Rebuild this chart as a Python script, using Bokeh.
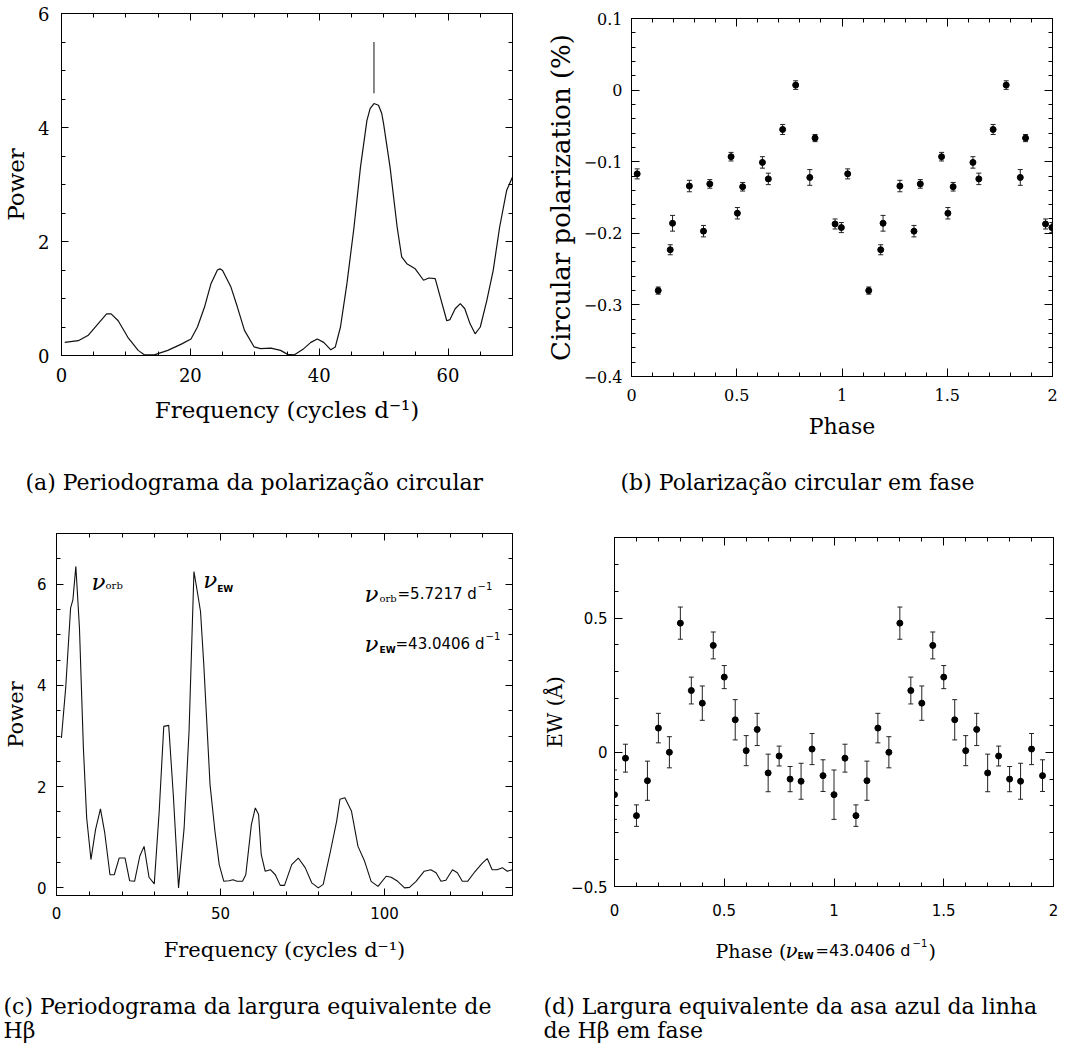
from bokeh.plotting import figure
from bokeh.layouts import row, column
from bokeh.models import (Range1d, LinearAxis, FixedTicker, CustomJSTickFormatter,
                          Label, Whisker, TeeHead, ColumnDataSource)
from bokeh.embed import file_html
from bokeh.resources import INLINE

# ---------------- data ----------------
# (a) periodogram of circular polarization
freq_a = [0.5, 2.6, 4.1, 5.7, 7.0, 7.7, 8.8, 10.3, 11.9, 12.9,
          14.4, 16.5, 18.6, 20.1, 21.1, 22.2, 23.2, 24.2, 24.6, 25.0, 26.3,
          27.3, 28.4, 29.9, 30.9, 32.5, 34.0, 35.1, 36.1, 37.6, 38.7,
          39.7, 40.7, 41.8, 42.5, 43.3, 44.3, 45.4, 46.4, 47.4, 47.9, 48.5,
          49.2, 49.7, 50.0, 51.0, 52.1, 52.8, 53.6, 54.9, 56.2, 57.0, 58.0,
          58.8, 59.8, 60.3, 61.1, 61.9, 62.6, 63.4, 64.2, 65.0, 66.0,
          67.0, 68.0, 69.1, 70.0]
power_a = [0.23, 0.26, 0.35, 0.56, 0.73, 0.73, 0.61, 0.32, 0.09, 0.01,
           0.01, 0.09, 0.20, 0.29, 0.50, 0.85, 1.26, 1.50, 1.52, 1.49, 1.20,
           0.85, 0.44, 0.15, 0.12, 0.13, 0.09, 0.02, 0.01, 0.12, 0.23,
           0.29, 0.23, 0.10, 0.15, 0.50, 1.26, 2.25, 3.30, 4.12, 4.33, 4.42,
           4.39, 4.25, 4.06, 3.30, 2.25, 1.73, 1.61, 1.52, 1.32, 1.36, 1.35,
           1.02, 0.61, 0.63, 0.82, 0.91, 0.82, 0.56, 0.38, 0.50, 0.96,
           1.49, 2.25, 2.90, 3.13]
peak_freq_a = 48.5
peak_mark_a = [4.6, 5.5]

# (b) circular polarization vs phase
phase_b = [0.027, 0.127, 0.184, 0.195, 0.275, 0.342, 0.372, 0.473, 0.503,
           0.528, 0.622, 0.650, 0.718, 0.780, 0.847, 0.872, 0.967, 0.997]
circpol_b = [-0.117, -0.280, -0.223, -0.186, -0.134, -0.197, -0.131, -0.093, -0.172,
             -0.135, -0.101, -0.124, -0.055, 0.007, -0.122, -0.067, -0.187, -0.192]
circpol_err_b = [0.007, 0.005, 0.007, 0.011, 0.008, 0.008, 0.006, 0.006, 0.008,
                 0.006, 0.008, 0.008, 0.007, 0.006, 0.011, 0.005, 0.007, 0.007]

# (c) periodogram of the H-beta equivalent width
freq_c = [1.5, 2.8, 4.3, 5.0, 5.9, 7.0, 8.2, 9.2, 10.5, 11.9,
          13.4, 14.7, 16.3, 17.6, 19.1, 20.9, 22.3, 23.8, 25.4, 26.7,
          28.2, 29.8, 31.3, 32.7, 34.2, 35.6, 37.2, 38.9, 40.4, 41.9,
          42.9, 43.9, 44.9, 46.8, 48.3, 49.6, 51.0, 52.6, 53.8, 55.0,
          56.7, 57.7, 59.4, 60.6, 61.6, 62.4, 63.6, 65.2, 66.7, 68.2,
          69.5, 71.7, 73.7, 75.8, 77.8, 79.8, 81.3, 83.3, 85.4, 86.4,
          87.9, 89.9, 91.9, 93.9, 95.9, 98.0, 100.5, 102.0, 104.0, 106.1,
          107.6, 109.6, 112.1, 114.1, 115.7, 117.2, 118.7, 120.7, 122.2, 123.7,
          125.3, 127.3, 129.8, 131.3, 132.8, 134.3, 135.9, 137.4, 139.0]
power_c = [2.96, 3.95, 5.53, 5.69, 6.35, 5.13, 2.76, 1.38, 0.56, 1.15,
           1.56, 1.09, 0.26, 0.26, 0.59, 0.59, 0.14, 0.13, 0.63, 0.82,
           0.21, 0.08, 1.51, 3.19, 3.21, 1.84, 0.00, 1.18, 3.09, 6.25,
           5.86, 5.46, 4.41, 2.04, 1.12, 0.46, 0.13, 0.14, 0.16, 0.13,
           0.13, 0.26, 1.25, 1.58, 1.45, 0.66, 0.33, 0.36, 0.26, 0.05,
           0.05, 0.46, 0.59, 0.40, 0.10, 0.00, 0.07, 0.66, 1.32, 1.75,
           1.78, 1.52, 0.82, 0.53, 0.13, 0.03, 0.23, 0.21, 0.13, 0.00,
           0.01, 0.13, 0.33, 0.36, 0.30, 0.13, 0.15, 0.36, 0.30, 0.13,
           0.13, 0.30, 0.49, 0.58, 0.36, 0.36, 0.40, 0.33, 0.36]
nu_orb_text = "=5.7217 d"
nu_ew_text = "=43.0406 d"

# (d) equivalent width vs phase
phase_d = [0.00, 0.05, 0.10, 0.15, 0.20, 0.25, 0.30, 0.35, 0.40, 0.45,
           0.50, 0.55, 0.60, 0.65, 0.70, 0.75, 0.80, 0.85, 0.90, 0.95]
ew_d = [-0.158, -0.022, -0.236, -0.106, 0.090, 0.000, 0.481, 0.230, 0.183, 0.398,
        0.280, 0.121, 0.006, 0.085, -0.077, -0.014, -0.100, -0.108, 0.012, -0.087]
ew_err_d = [0.092, 0.052, 0.040, 0.073, 0.055, 0.058, 0.060, 0.050, 0.064, 0.050,
            0.043, 0.075, 0.056, 0.060, 0.070, 0.037, 0.047, 0.067, 0.058, 0.059]

# ticks
a_xticks = [0, 20, 40, 60]
a_xminor = [0, 5, 10, 15, 20, 25, 30, 35, 40, 45, 50, 55, 60, 65, 70]
a_yticks = [0, 2, 4, 6]
a_yminor = [0, 0.5, 1, 1.5, 2, 2.5, 3, 3.5, 4, 4.5, 5, 5.5, 6]
b_xticks = [0, 0.5, 1, 1.5, 2]
b_xminor = [0, 0.1, 0.2, 0.3, 0.4, 0.5, 0.6, 0.7, 0.8, 0.9, 1, 1.1, 1.2, 1.3, 1.4,
            1.5, 1.6, 1.7, 1.8, 1.9, 2]
b_yticks = [-0.4, -0.3, -0.2, -0.1, 0, 0.1]
b_yminor = [-0.4, -0.38, -0.36, -0.34, -0.32, -0.3, -0.28, -0.26, -0.24, -0.22, -0.2,
            -0.18, -0.16, -0.14, -0.12, -0.1, -0.08, -0.06, -0.04, -0.02, 0, 0.02,
            0.04, 0.06, 0.08, 0.1]
c_xticks = [0, 50, 100]
c_xminor = [0, 10, 20, 30, 40, 50, 60, 70, 80, 90, 100, 110, 120, 130]
c_yticks = [0, 2, 4, 6]
c_yminor = [0, 0.5, 1, 1.5, 2, 2.5, 3, 3.5, 4, 4.5, 5, 5.5, 6, 6.5]
d_xticks = [0, 0.5, 1, 1.5, 2]
d_xminor = b_xminor
d_yticks = [-0.5, 0, 0.5]
d_yminor = [-0.5, -0.4, -0.3, -0.2, -0.1, 0, 0.1, 0.2, 0.3, 0.4, 0.5, 0.6, 0.7, 0.8]

captions = {
    "a": ["(a) Periodograma da polarização circular"],
    "b": ["(b) Polarização circular em fase"],
    "c": ["(c) Periodograma da largura equivalente de", "Hβ"],
    "d": ["(d) Largura equivalente da asa azul da linha", "de Hβ em fase"],
}

# ---------------- helpers ----------------
SERIF = "DejaVu Serif"
SANS = "DejaVu Sans"
CAP_FONT = SERIF
CAP_SIZE = "22px"

NUM_FMT = "const v = Math.round(tick*1000)/1000; return String(v).replace('-', '\u2212');"
EMPTY_FMT = "return '';"


def make_panel(width, height, xr, yr, left, right, top, bottom):
    p = figure(width=width, height=height, x_range=Range1d(*xr), y_range=Range1d(*yr),
               x_axis_type=None, y_axis_type=None, output_backend="svg",
               toolbar_location=None, min_border_left=left, min_border_right=right,
               min_border_top=top, min_border_bottom=bottom, frame_align=False)
    p.outline_line_color = "black"
    p.outline_line_width = 1
    p.background_fill_color = "white"
    p.border_fill_color = "white"
    return p


def make_text_area(width, height):
    # a blank figure whose data units are pixels measured from its top-left corner
    f = figure(width=width, height=height, x_range=Range1d(0, width),
               y_range=Range1d(height, 0), x_axis_type=None, y_axis_type=None,
               output_backend="svg", toolbar_location=None, min_border=0,
               min_border_left=0, min_border_right=0, min_border_top=0,
               min_border_bottom=0, frame_align=False)
    f.outline_line_color = None
    f.background_fill_color = "white"
    f.border_fill_color = "white"
    return f


def add_axis(p, side, ticks, minor, major_len, minor_len, font=None, size=None,
             standoff=0, label=None, label_font=None, label_size=None, label_standoff=0):
    ax = LinearAxis(ticker=FixedTicker(ticks=ticks, minor_ticks=minor))
    ax.major_tick_in = major_len
    ax.major_tick_out = 0
    ax.minor_tick_in = minor_len
    ax.minor_tick_out = 0
    ax.axis_line_color = "black"
    ax.major_tick_line_color = "black"
    ax.minor_tick_line_color = "black"
    if font is None:
        ax.formatter = CustomJSTickFormatter(code=EMPTY_FMT)
        ax.major_label_text_font_size = "1px"
        ax.major_label_standoff = 0
    else:
        ax.formatter = CustomJSTickFormatter(code=NUM_FMT)
        ax.major_label_text_font = font
        ax.major_label_text_font_size = size
        ax.major_label_text_color = "black"
        ax.major_label_standoff = standoff
    if label is not None:
        ax.axis_label = label
        ax.axis_label_text_font = label_font
        ax.axis_label_text_font_size = label_size
        ax.axis_label_text_font_style = "normal"
        ax.axis_label_text_color = "black"
        ax.axis_label_standoff = label_standoff
    p.add_layout(ax, side)
    return ax


def add_text(p, x, y, text, font, size, dx=0, dy=0, style="normal"):
    p.add_layout(Label(x=x, y=y, x_offset=dx, y_offset=dy, text=text, text_font=font,
                       text_font_size=size, text_font_style=style, text_color="black",
                       text_align="left", text_baseline="alphabetic"))


def add_caption(f, lines, x, y, gap=24):
    for i, line in enumerate(lines):
        add_text(f, x, y + gap * i, line, CAP_FONT, CAP_SIZE)


def add_errorbars(p, xs, ys, errs, head):
    src = ColumnDataSource(dict(x=xs, y=ys,
                                lo=[y - e for y, e in zip(ys, errs)],
                                hi=[y + e for y, e in zip(ys, errs)]))
    w = Whisker(source=src, base="x", upper="hi", lower="lo", line_color="#222222",
                line_width=1,
                upper_head=TeeHead(size=head, line_color="#222222", line_width=1),
                lower_head=TeeHead(size=head, line_color="#222222", line_width=1))
    p.add_layout(w)
    p.scatter("x", "y", source=src, size=6, color="black")


def fold_two_cycles(ph, vals, errs, lo, hi):
    xs, ys, es = [], [], []
    for k in (0, 1):
        for x, y, e in zip(ph, vals, errs):
            if lo <= x + k <= hi:
                xs.append(x + k)
                ys.append(y)
                es.append(e)
    return xs, ys, es


# ---------------- panel (a) ----------------
pa = make_panel(540, 440, (0, 70), (0, 6), 60, 28, 13, 85)
add_axis(pa, "below", a_xticks, a_xminor, 7, 4, SERIF, "18px", 12,
         "Frequency (cycles d⁻¹)", SERIF, "23px", 12)
add_axis(pa, "left", a_yticks, a_yminor, 7, 4, SERIF, "18px", 12,
         "Power", SERIF, "23px", 6)
add_axis(pa, "above", a_xticks, a_xminor, 7, 4)
add_axis(pa, "right", a_yticks, a_yminor, 7, 4)
pa.line(freq_a, power_a, line_color="#111111", line_width=1.2)
pa.segment(x0=[peak_freq_a], y0=[peak_mark_a[0]], x1=[peak_freq_a], y1=[peak_mark_a[1]],
           line_color="#111111", line_width=1)
ca = make_text_area(540, 80)
add_caption(ca, captions["a"], 25, 42)

# ---------------- panel (b) ----------------
pb = make_panel(535, 445, (0, 2), (-0.4, 0.1), 91, 23, 18, 69)
add_axis(pb, "below", b_xticks, b_xminor, 8, 4, SERIF, "16px", 12,
         "Phase", SERIF, "22px", 10)
add_axis(pb, "left", b_yticks, b_yminor, 8, 4, SERIF, "16px", 9,
         "Circular polarization (%)", SERIF, "26px", 5)
add_axis(pb, "above", b_xticks, b_xminor, 8, 4)
add_axis(pb, "right", b_yticks, b_yminor, 8, 4)
xb, yb, eb = fold_two_cycles(phase_b, circpol_b, circpol_err_b, 0, 2)
add_errorbars(pb, xb, yb, eb, 5)
cb = make_text_area(535, 75)
add_caption(cb, captions["b"], 80, 37)

# ---------------- panel (c) ----------------
pc = make_panel(540, 455, (0, 139), (-0.15, 7.0), 53, 28, 13, 80)
add_axis(pc, "below", c_xticks, c_xminor, 7, 4, SANS, "15px", 11,
         "Frequency (cycles d⁻¹)", SERIF, "21px", 16)
add_axis(pc, "left", c_yticks, c_yminor, 7, 4, SANS, "15px", 10,
         "Power", SERIF, "21px", 6)
add_axis(pc, "above", c_xticks, c_xminor, 7, 4)
add_axis(pc, "right", c_yticks, c_yminor, 7, 4)
pc.line(freq_c, power_c, line_color="#111111", line_width=1.1)
# peak labels
add_text(pc, 10.7, 6.05, "ν", SERIF, "23px", style="italic")
add_text(pc, 10.7, 6.05, "orb", SERIF, "10px", dx=14, dy=-4)
add_text(pc, 44.7, 6.08, "ν", SERIF, "23px", style="italic")
add_text(pc, 44.7, 6.08, "EW", SANS, "9px", dx=14, dy=-9, style="bold")
# frequency annotations
add_text(pc, 93.9, 5.81, "ν", SERIF, "23px", style="italic")
add_text(pc, 93.9, 5.81, "orb", SERIF, "10px", dx=15, dy=-5)
add_text(pc, 93.9, 5.81, nu_orb_text, SANS, "15px", dx=33)
add_text(pc, 93.9, 5.81, "−1", SANS, "10px", dx=113, dy=8)
add_text(pc, 93.9, 4.82, "ν", SERIF, "23px", style="italic")
add_text(pc, 93.9, 4.82, "EW", SANS, "9px", dx=15, dy=-6, style="bold")
add_text(pc, 93.9, 4.82, nu_ew_text, SANS, "15px", dx=31)
add_text(pc, 93.9, 4.82, "−1", SANS, "10px", dx=121, dy=8)
cc = make_text_area(540, 72)
add_caption(cc, captions["c"], 3, 31)

# ---------------- panel (d) ----------------
pd = make_panel(535, 408, (0, 2), (-0.5, 0.8), 63, 22, 17, 42)
add_axis(pd, "below", d_xticks, d_xminor, 8, 4, SANS, "15px", 17)
add_axis(pd, "left", d_yticks, d_yminor, 8, 4, SANS, "15px", 7,
         "EW (Å)", SERIF, "20px", 1)
add_axis(pd, "above", d_xticks, d_xminor, 8, 4)
add_axis(pd, "right", d_yticks, d_yminor, 8, 4)
xd, yd, ed = fold_two_cycles(phase_d, ew_d, ew_err_d, 0, 2)
add_errorbars(pd, xd, yd, ed, 5)
cd = make_text_area(535, 119)
# composite x-axis title: Phase (ν_EW=43.0406 d^-1)
add_text(cd, 175, 22, "Phase (", SERIF, "19px")
add_text(cd, 245, 22, "ν", SERIF, "20px", style="italic")
add_text(cd, 257, 27, "EW", SANS, "9px", style="bold")
add_text(cd, 275, 22, nu_ew_text, SANS, "16px")
add_text(cd, 372, 14, "−1", SANS, "10px")
add_text(cd, 388, 22, ")", SERIF, "19px")
add_caption(cd, captions["d"], 3, 78)

layout = column(row(column(pa, ca), column(pb, cb)),
                row(column(pc, cc), column(pd, cd)))
open("out.html", "w").write(file_html(layout, INLINE))
